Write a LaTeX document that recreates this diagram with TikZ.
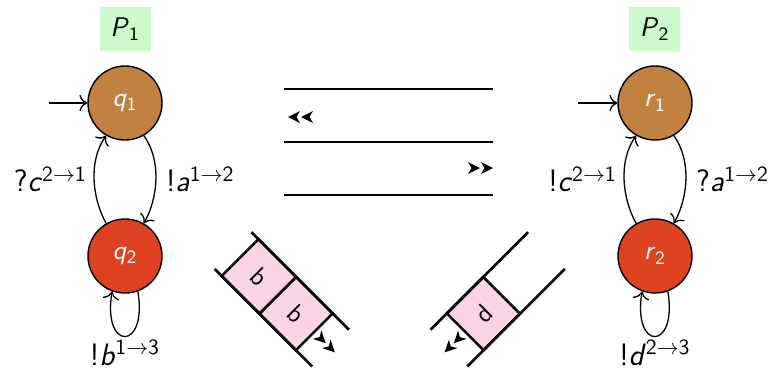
\documentclass[tikz,border=0pt]{standalone}
\usepackage{fontspec}
\usetikzlibrary{calc,arrows.meta}
\definecolor{stbrown}{RGB}{193,130,65}
\definecolor{stred}{RGB}{222,66,33}
\definecolor{pgreen}{RGB}{204,250,204}
\definecolor{cpink}{RGB}{250,212,228}
\newcommand{\stl}[2]{\textit{#1}\textsubscript{#2}}
\newcommand{\elab}[4]{#1\textit{#2}\textsuperscript{#3$\to$#4}}
\begin{document}
\begin{tikzpicture}[x=0.5pt,y=-0.5pt,
  state/.style={circle, draw=black, line width=0.7pt, minimum size=37pt, inner sep=0pt, text=white, font=\sffamily\fontsize{13.5}{15}\selectfont},
  proc/.style={fill=pgreen, minimum width=25.5pt, minimum height=22pt, inner sep=0pt, font=\sffamily\fontsize{13.5}{15}\selectfont},
  elabel/.style={font=\sffamily\fontsize{15.5}{18}\selectfont},
  looplabel/.style={elabel, anchor=base, inner sep=1pt, yshift=-14.5pt},
  trans/.style={-{To[scale=1.3]}, line width=0.65pt},
  rail/.style={line width=1.3pt},
  cell/.style={draw=black, line width=1.3pt, fill=cpink},
  celltext/.style={font=\sffamily\fontsize{13}{15}\selectfont, transform shape},
  dblhead/.pic={\fill (0,0) -- (-12,-6) -- (-8.5,0) -- (-12,6) -- cycle; \fill (-13,0) -- (-25,-6) -- (-21.5,0) -- (-25,6) -- cycle;}
]
\useasboundingbox (0,0) rectangle (772,371);

% Process P1
\node[proc] (P1) at (125,29) {\stl{P}{1}};
\node[state, fill=stbrown] (q1) at (125,103) {\stl{q}{1}};
\node[state, fill=stred] (q2) at (125,256) {\stl{q}{2}};
\coordinate (i1) at (49,103);
\draw[trans] (i1) -- (q1);
\draw[trans] (q1.-60) .. controls +(18,25) and +(14,-25) .. node[elabel, anchor=west, xshift=1.5pt] {\elab{!}{a}{1}{2}} (q2.60);
\draw[trans] (q2.120) .. controls +(-14,-25) and +(-18,25) .. node[elabel, anchor=east] {\elab{?}{c}{2}{1}} (q1.-120);
\draw[trans] (q2.-70) .. controls +(10,60) and +(-10,60) .. node[looplabel] {\elab{!}{b}{1}{3}} (q2.-110);

% Process P2
\node[proc] (P2) at (654.5,29) {\stl{P}{2}};
\node[state, fill=stbrown] (r1) at (655,103) {\stl{r}{1}};
\node[state, fill=stred] (r2) at (655,256) {\stl{r}{2}};
\coordinate (i2) at (578,103);
\draw[trans] (i2) -- (r1);
\draw[trans] (r1.-60) .. controls +(18,25) and +(14,-25) .. node[elabel, anchor=west, xshift=1.5pt] {\elab{?}{a}{1}{2}} (r2.60);
\draw[trans] (r2.120) .. controls +(-14,-25) and +(-18,25) .. node[elabel, anchor=east] {\elab{!}{c}{2}{1}} (r1.-120);
\draw[trans] (r2.-70) .. controls +(10,60) and +(-10,60) .. node[looplabel] {\elab{!}{d}{2}{3}} (r2.-110);

% Channels
\coordinate (c1a) at (284,89);  \coordinate (c1b) at (493,89);
\coordinate (c2a) at (284,142); \coordinate (c2b) at (493,142);
\coordinate (c3a) at (284,195); \coordinate (c3b) at (493,195);
\draw[rail] (c1a) -- (c1b);
\draw[rail] (c2a) -- (c2b);
\draw[rail] (c3a) -- (c3b);
\pic[rotate=180] at (288,117) {dblhead};
\pic at (493,168) {dblhead};

% Left queue
\begin{scope}[shift={(233,250.5)}, rotate=-45]
  \draw[cell] (10,-26) rectangle (63.5,26);
  \draw[cell] (63.5,-26) rectangle (115,26);
  \draw[rail] (0,-26) -- (138,-26);
  \draw[rail] (0,26) -- (138,26);
  \node[celltext] (b1) at (36.75,0) {b};
  \node[celltext] (b2) at (89.25,0) {b};
  \pic[transform shape] at (144,0) {dblhead};
\end{scope}

% Right queue
\begin{scope}[shift={(546.5,250.5)}, rotate=-135]
  \draw[cell] (63.5,-26) rectangle (115,26);
  \draw[rail] (0,-26) -- (138,-26);
  \draw[rail] (0,26) -- (138,26);
  \node[celltext, rotate=180] (d1) at (89.25,0) {d};
  \pic[transform shape] at (144,0) {dblhead};
\end{scope}
\end{tikzpicture}
\end{document}
